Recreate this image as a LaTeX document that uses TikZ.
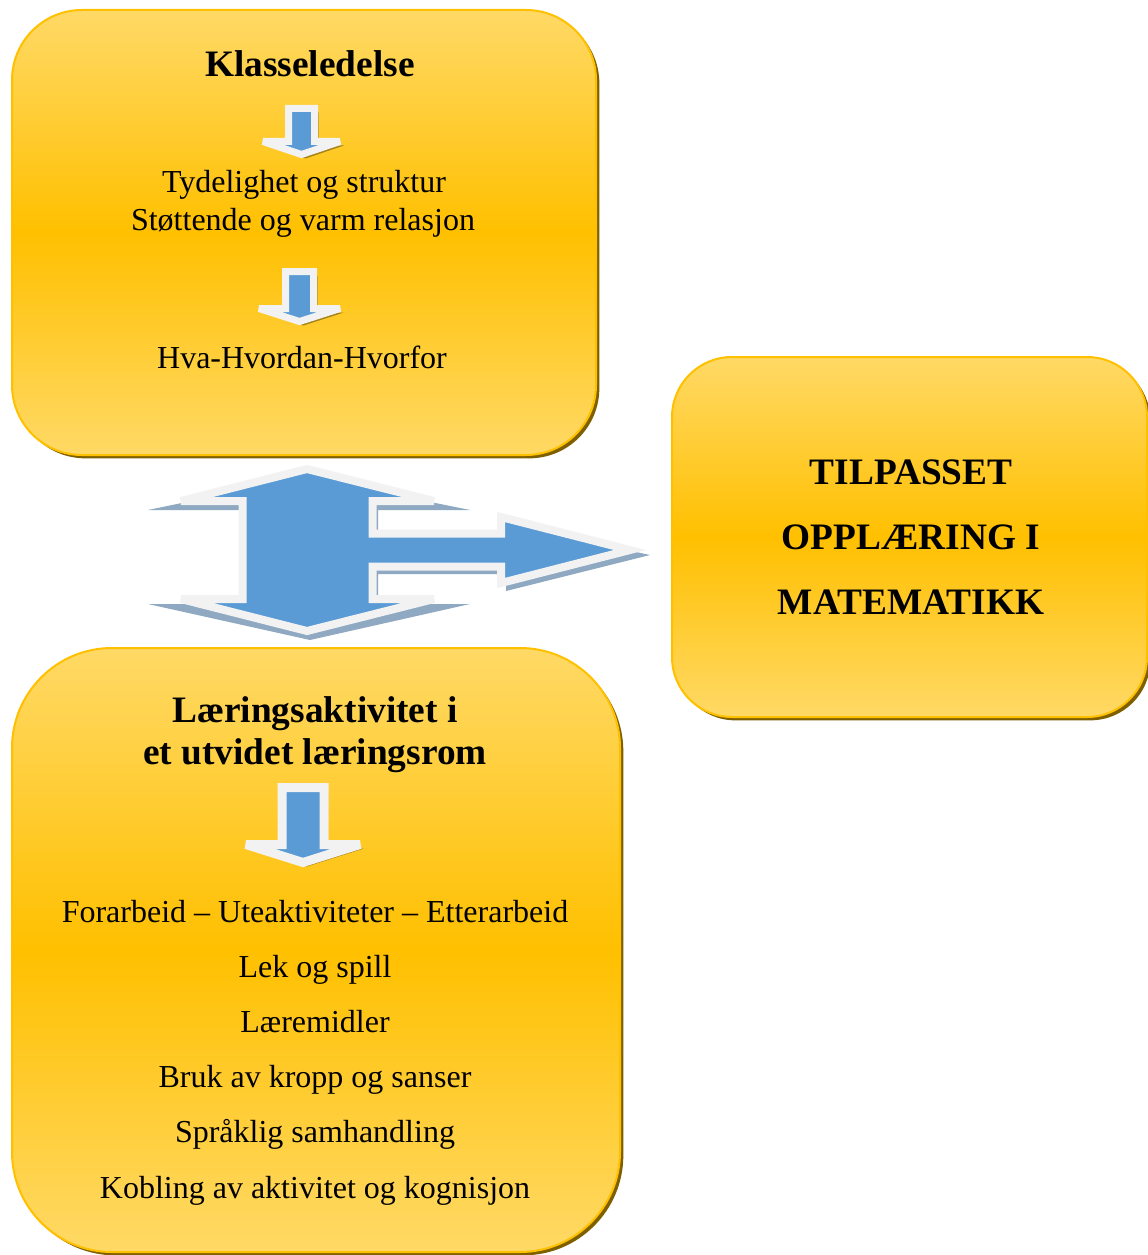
\documentclass[tikz,border=0pt]{standalone}
\usepackage{fontspec}
\setmainfont{Liberation Serif}
\usetikzlibrary{positioning,shadows}

\definecolor{boxlight}{HTML}{FFD966}
\definecolor{boxmid}{HTML}{FFC000}
\definecolor{boxline}{HTML}{FFC000}
\definecolor{boxshadow}{HTML}{7F6000}
\definecolor{arrowblue}{HTML}{5B9BD5}
\definecolor{arrowline}{HTML}{F2F2F2}
\definecolor{arrowshadow}{HTML}{8EA9C1}

\tikzset{
  box/.style={rounded corners=#1, draw=boxline, line width=1.5pt,
    top color=boxlight, bottom color=boxlight, middle color=boxmid,
    drop shadow={shadow xshift=2.5pt, shadow yshift=-2.5pt, fill=boxshadow, opacity=1}},
  head/.style={font=\fontsize{28}{32}\selectfont\bfseries, inner sep=0pt, anchor=base},
  txt/.style={font=\fontsize{24}{28}\selectfont, inner sep=0pt, anchor=base},
  item/.style={font=\fontsize{24}{28}\selectfont, inner sep=0pt,
    text height=17pt, text depth=5pt},
  bigarrow/.style={fill=arrowblue, draw=arrowline, line width=6pt, miter limit=5},
  smallarrow/.style={fill=arrowblue, draw=arrowline, miter limit=5},
  smallshadow/.style={fill=black, opacity=0.35}
}

\begin{document}
\begin{tikzpicture}[x=0.75pt, y=-0.75pt]
    \useasboundingbox (0,0) rectangle (1148,1255);

    % boxes
    \node[box=52.5pt, minimum width=438pt, minimum height=333.75pt] (klasse) at (304,232.5) {};
    \node[box=45pt, minimum width=356.25pt, minimum height=270pt] (tilpasset) at (909.5,537) {};
    \node[box=75pt, minimum width=456pt, minimum height=453pt] (laering) at (316,950) {};

    % small arrows
    \foreach \cx/\yt/\yh/\yp/\sw/\hw/\lw in {301.5/108.5/141.5/154.5/13/38.5/7,
        299.5/271.5/308.5/321.5/14/40.5/7, 303/787.5/844.5/862.5/21/57/9}{
        \fill[smallshadow, shift={(4,4)}] ({\cx-\sw},\yt) -- ({\cx+\sw},\yt) -- ({\cx+\sw},\yh)
            -- ({\cx+\hw},\yh) -- (\cx,\yp) -- ({\cx-\hw},\yh) -- ({\cx-\sw},\yh) -- cycle;
        \filldraw[smallarrow, line width=\lw*0.75pt] ({\cx-\sw},\yt) -- ({\cx+\sw},\yt) -- ({\cx+\sw},\yh)
            -- ({\cx+\hw},\yh) -- (\cx,\yp) -- ({\cx-\hw},\yh) -- ({\cx-\sw},\yh) -- cycle;
    }

    % big arrow
    \fill[arrowshadow] (307,477) -- (470,510) -- (378,510) -- (378,540) -- (506,540)
        -- (506,524) -- (650,555) -- (506,591) -- (506,574) -- (378,574) -- (378,604)
        -- (470,604) -- (310,640) -- (148,604) -- (245,604) -- (245,510) -- (148,510) -- cycle;
    \filldraw[bigarrow] (307,469) -- (434,501) -- (372.5,501) -- (372.5,533.5) -- (501,533.5)
        -- (501,517) -- (630,550) -- (501,583) -- (501,566.5) -- (372.5,566.5) -- (372.5,599)
        -- (434,599) -- (307,631) -- (181,599) -- (242.5,599) -- (242.5,501) -- (181,501) -- cycle;

    % texts
    \node[head] (klassetitle) at (310,76.7) {Klasseledelse};
    \node[txt] (tydelig) at (304,193) {Tydelighet og struktur};
    \node[txt] (stotte) at (303,230) {Støttende og varm relasjon};
    \node[txt] (hva) at (302,368) {Hva-Hvordan-Hvorfor};

    \node[head] (tilp1) at (911,484) {TILPASSET};
    \node[head] (tilp2) at (911,549) {OPPLÆRING I};
    \node[head] (tilp3) at (911,614) {MATEMATIKK};

    \node[head] (laer1) at (315,722) {Læringsaktivitet i};
    \node[head] (laer2) at (315,764) {et utvidet læringsrom};

    \node[item, anchor=base] (forarbeid) at (315,922) {Forarbeid – Uteaktiviteter – Etterarbeid};
    \node[item, on grid, below=41.4pt of forarbeid] (lek) {Lek og spill};
    \node[item, on grid, below=41.4pt of lek] (laeremidler) {Læremidler};
    \node[item, on grid, below=41.4pt of laeremidler] (kropp) {Bruk av kropp og sanser};
    \node[item, on grid, below=41.4pt of kropp] (sprak) {Språklig samhandling};
    \node[item, on grid, below=41.4pt of sprak] (kobling) {Kobling av aktivitet og kognisjon};
\end{tikzpicture}
\end{document}
